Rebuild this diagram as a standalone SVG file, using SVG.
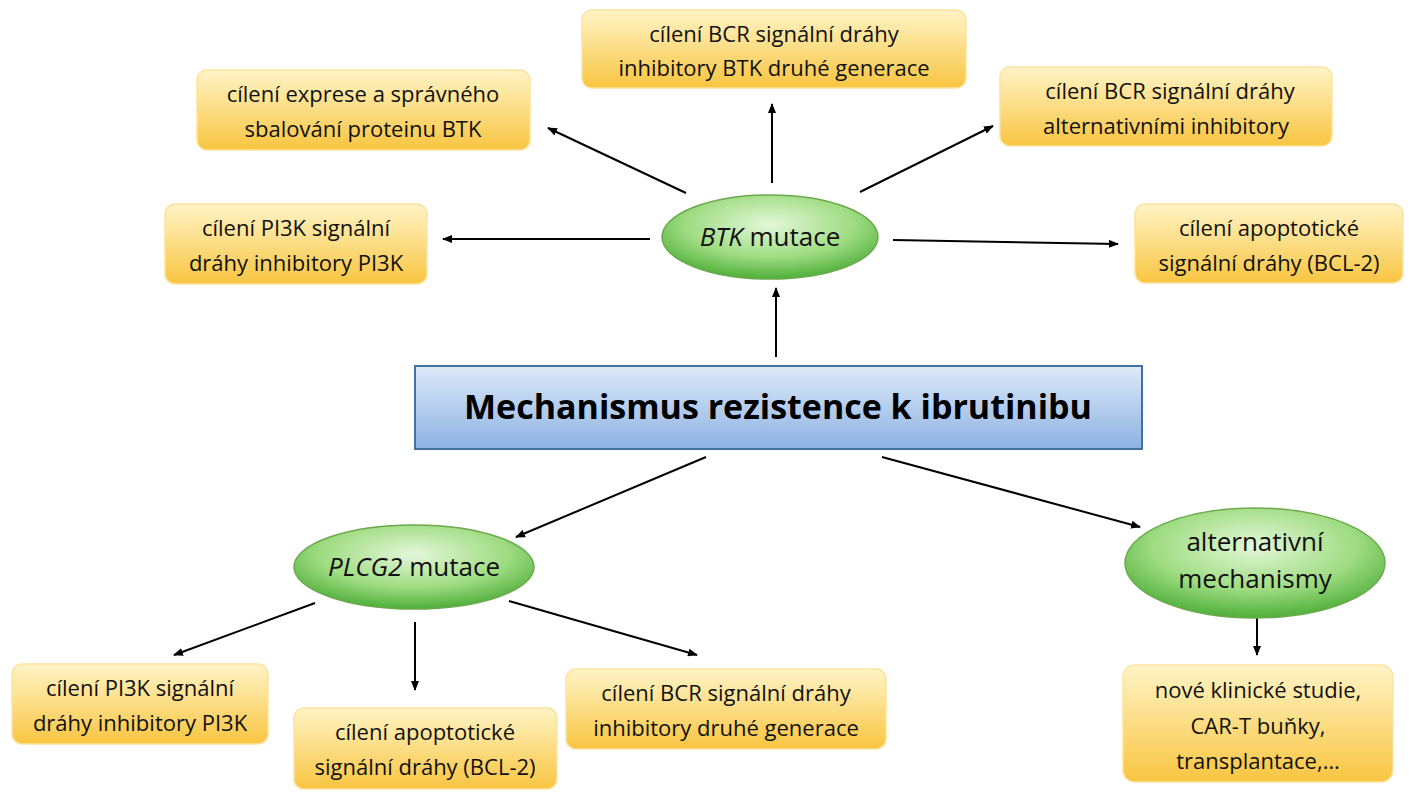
<svg xmlns="http://www.w3.org/2000/svg" width="1421" height="800" viewBox="0 0 1421 800">
<style>
.box{fill:url(#yg);stroke:#fbe3a0;stroke-width:1.5}
.ell{fill:url(#gg);stroke:#6aaa4c;stroke-width:1.5}
.t{font-family:"Open Sans","Liberation Sans",sans-serif;font-size:22px;fill:#111;text-anchor:middle}
.e{font-family:"Open Sans","Liberation Sans",sans-serif;font-size:26px;fill:#111;text-anchor:middle}
.c line{stroke:#000;stroke-width:2;marker-end:url(#ah)}
</style>
<defs>
<linearGradient id="yg" x1="0" y1="0" x2="0" y2="1"><stop offset="0" stop-color="#fff4c6"/><stop offset="1" stop-color="#f8c541"/></linearGradient>
<radialGradient id="gg" cx="0.5" cy="0.35" r="0.65"><stop offset="0" stop-color="#e4f7d9"/><stop offset="0.6" stop-color="#9fdc82"/><stop offset="1" stop-color="#4faf3a"/></radialGradient>
<linearGradient id="bg" x1="0" y1="0" x2="0" y2="1"><stop offset="0" stop-color="#dde9f8"/><stop offset="1" stop-color="#8db2e2"/></linearGradient>
<marker id="ah" markerWidth="10" markerHeight="8" refX="9" refY="4" orient="auto" markerUnits="userSpaceOnUse"><path d="M0,0L10,4L0,8z" fill="#000"/></marker>
</defs>
<g class="c" id="connectors">
<line x1="686" y1="193" x2="548" y2="128"/>
<line x1="772" y1="183" x2="772" y2="104"/>
<line x1="860" y1="192" x2="993" y2="126"/>
<line x1="650" y1="239" x2="443" y2="239"/>
<line x1="893" y1="240" x2="1118" y2="244"/>
<line x1="776" y1="357" x2="776" y2="288"/>
<line x1="706" y1="457" x2="516" y2="537"/>
<line x1="882" y1="457" x2="1140" y2="527"/>
<line x1="315" y1="603" x2="174" y2="655"/>
<line x1="415" y1="622" x2="415" y2="690"/>
<line x1="509" y1="601" x2="697" y2="655"/>
<line x1="1257" y1="616" x2="1257" y2="655"/>
</g>
<g id="center"><rect x="415" y="366" width="727" height="83" fill="url(#bg)" stroke="#41719c" stroke-width="2"/><text x="778" y="419" font-family="'Open Sans','Liberation Sans',sans-serif" font-size="34" font-weight="bold" text-anchor="middle" fill="#000">Mechanismus rezistence k ibrutinibu</text></g>
<g id="btk"><ellipse class="ell" cx="770" cy="237" rx="108" ry="42"/><text class="e" x="770" y="246"><tspan font-style="italic">BTK</tspan> mutace</text></g>
<g id="plcg2"><ellipse class="ell" cx="414" cy="567" rx="120" ry="42"/><text class="e" x="414" y="576"><tspan font-style="italic">PLCG2</tspan> mutace</text></g>
<g id="alt"><ellipse class="ell" cx="1255" cy="563" rx="130" ry="55"/><text class="e" x="1255" y="551">alternativní</text><text class="e" x="1255" y="588">mechanismy</text></g>
<g id="b1"><rect class="box" x="582" y="10" width="384" height="78" rx="10"/><text class="t" x="774" y="42">cílení BCR signální dráhy</text><text class="t" x="774" y="76">inhibitory BTK druhé generace</text></g>
<g id="b2"><rect class="box" x="197" y="70" width="333" height="80" rx="10"/><text class="t" x="363" y="102">cílení exprese a správného</text><text class="t" x="363" y="137">sbalování proteinu BTK</text></g>
<g id="b3"><rect class="box" x="1000" y="67" width="332" height="79" rx="10"/><text class="t" x="1170" y="99">cílení BCR signální dráhy</text><text class="t" x="1166" y="134">alternativními inhibitory</text></g>
<g id="b4"><rect class="box" x="165" y="204" width="262" height="80" rx="10"/><text class="t" x="296" y="236">cílení PI3K signální</text><text class="t" x="296" y="271">dráhy inhibitory PI3K</text></g>
<g id="b5"><rect class="box" x="1135" y="204" width="268" height="79" rx="10"/><text class="t" x="1269" y="236">cílení apoptotické</text><text class="t" x="1269" y="271">signální dráhy (BCL-2)</text></g>
<g id="b6"><rect class="box" x="12" y="664" width="256" height="80" rx="10"/><text class="t" x="140" y="696">cílení PI3K signální</text><text class="t" x="140" y="731">dráhy inhibitory PI3K</text></g>
<g id="b7"><rect class="box" x="294" y="708" width="263" height="81" rx="10"/><text class="t" x="425" y="740">cílení apoptotické</text><text class="t" x="425" y="775">signální dráhy (BCL-2)</text></g>
<g id="b8"><rect class="box" x="566" y="669" width="320" height="80" rx="10"/><text class="t" x="726" y="701">cílení BCR signální dráhy</text><text class="t" x="726" y="736">inhibitory druhé generace</text></g>
<g id="b9"><rect class="box" x="1123" y="665" width="270" height="117" rx="12"/><text class="t" x="1258" y="698">nové klinické studie,</text><text class="t" x="1258" y="734">CAR-T buňky,</text><text class="t" x="1258" y="769">transplantace,…</text></g>
</svg>
